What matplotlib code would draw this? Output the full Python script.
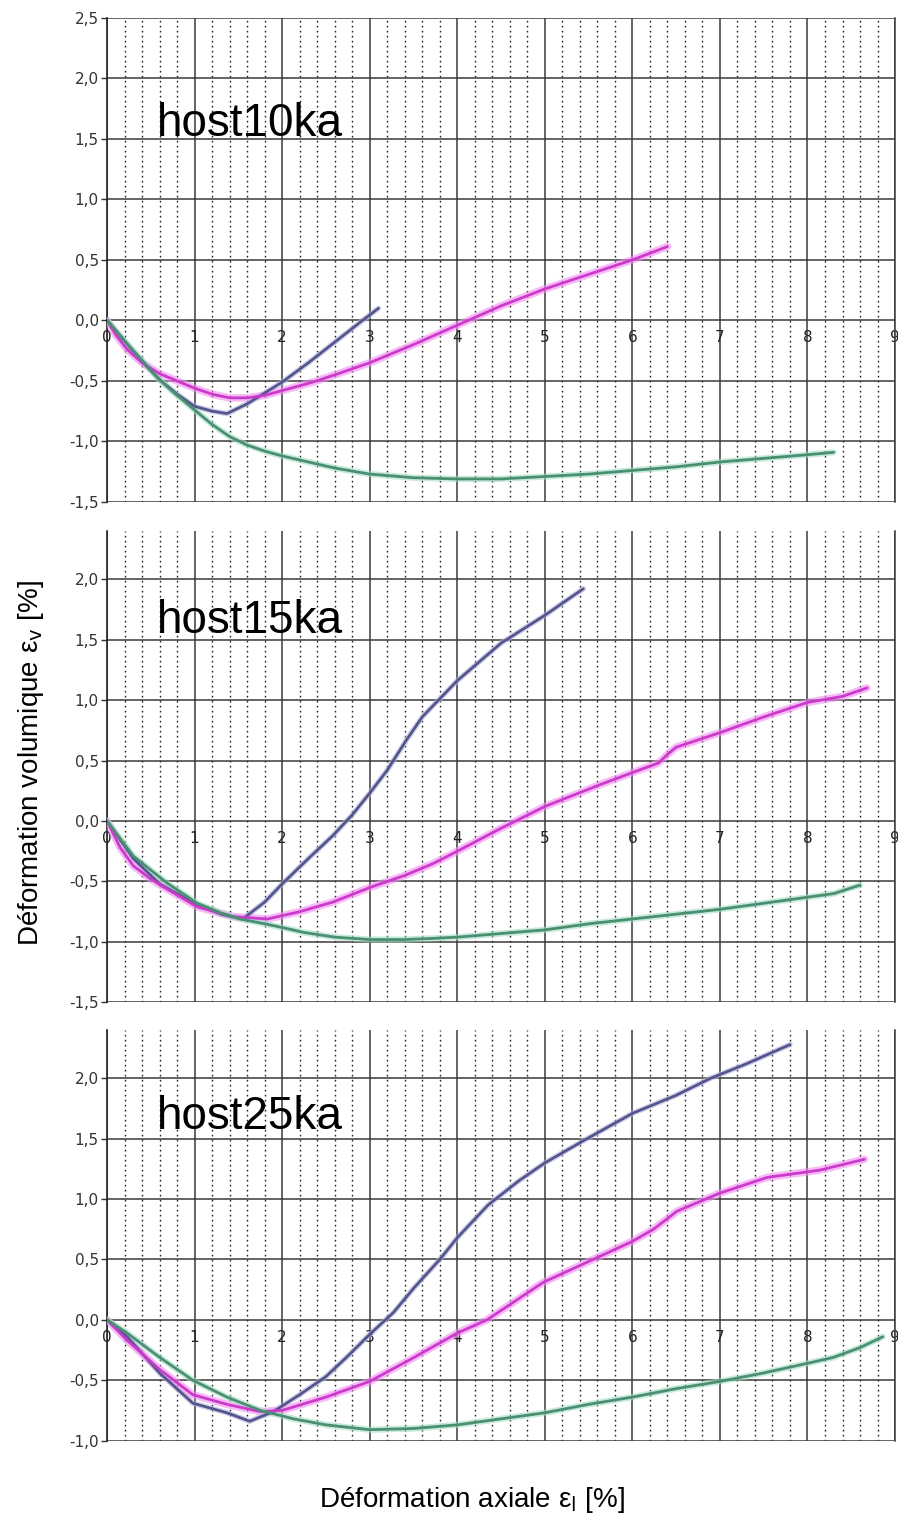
import numpy as np
import matplotlib
matplotlib.use("Agg")
import matplotlib.pyplot as plt
from matplotlib.ticker import MultipleLocator, FixedLocator, FixedFormatter

# ---- data ----
panel_names = ["host10ka", "host15ka", "host25ka"]

# host10ka
h10_bleu_x = [0, 0.2, 0.4, 0.6, 0.8, 1.0, 1.2, 1.37, 1.6, 1.8, 2.0, 2.3, 2.6, 2.9, 3.1]
h10_bleu_y = [0, -0.17, -0.34, -0.49, -0.61, -0.71, -0.75, -0.77, -0.69, -0.60, -0.51, -0.35, -0.18, -0.01, 0.10]
h10_rose_x = [0, 0.1, 0.23, 0.4, 0.6, 0.8, 1.0, 1.2, 1.4, 1.6, 1.8, 2.1, 2.35, 2.6, 3.0, 3.5, 4.0, 4.5,
              5.0, 5.5, 6.0, 6.4]
h10_rose_y = [0, -0.12, -0.24, -0.35, -0.44, -0.50, -0.56, -0.61, -0.64, -0.64, -0.62, -0.56, -0.51, -0.45,
              -0.35, -0.20, -0.04, 0.12, 0.26, 0.38, 0.50, 0.61]
h10_vert_x = [0, 0.2, 0.4, 0.6, 0.8, 1.0, 1.2, 1.4, 1.6, 1.8, 2.0, 2.3, 2.6, 3.0, 3.5, 4.0, 4.5,
              5.0, 5.5, 6.0, 6.5, 7.0, 7.5, 8.0, 8.3]
h10_vert_y = [0, -0.17, -0.33, -0.49, -0.62, -0.74, -0.86, -0.96, -1.03, -1.08, -1.12, -1.17, -1.22, -1.27,
              -1.30, -1.31, -1.31, -1.29, -1.27, -1.24, -1.21, -1.17, -1.14, -1.11, -1.09]

# host15ka
h15_bleu_x = [0, 0.3, 0.6, 1.0, 1.3, 1.55, 1.8, 2.0, 2.3, 2.58, 2.8, 3.0, 3.2, 3.42, 3.6, 4.0, 4.5, 5.0, 5.44]
h15_bleu_y = [0, -0.31, -0.52, -0.68, -0.77, -0.81, -0.67, -0.52, -0.31, -0.12, 0.05, 0.23, 0.42, 0.67,
              0.86, 1.16, 1.47, 1.70, 1.92]
h15_rose_x = [0, 0.15, 0.3, 0.5, 0.68, 1.03, 1.44, 1.83, 2.2, 2.58, 3.0, 3.4, 3.73, 4.0, 4.5, 5.0, 5.63,
              6.0, 6.3, 6.4, 6.5, 7.0, 7.5, 8.0, 8.4, 8.68]
h15_rose_y = [0, -0.22, -0.37, -0.48, -0.56, -0.71, -0.79, -0.81, -0.75, -0.67, -0.55, -0.45, -0.35, -0.25,
              -0.06, 0.12, 0.30, 0.40, 0.48, 0.55, 0.61, 0.73, 0.86, 0.98, 1.03, 1.10]
h15_vert_x = [0, 0.3, 0.68, 1.03, 1.3, 1.52, 1.8, 2.0, 2.24, 2.6, 3.0, 3.4, 3.73, 4.0, 4.5, 5.0, 5.5,
              6.0, 6.5, 7.0, 7.5, 8.0, 8.3, 8.6]
h15_vert_y = [0, -0.29, -0.51, -0.68, -0.76, -0.81, -0.85, -0.88, -0.92, -0.96, -0.98, -0.98, -0.97, -0.96,
              -0.93, -0.90, -0.85, -0.81, -0.77, -0.73, -0.68, -0.63, -0.60, -0.53]

# host25ka
h25_bleu_x = [0, 0.23, 0.6, 0.98, 1.37, 1.63, 1.9, 2.2, 2.5, 2.75, 3.0, 3.27, 3.5, 3.8, 4.0, 4.35, 4.7,
              5.0, 5.48, 6.0, 6.5, 6.89, 7.3, 7.8]
h25_bleu_y = [0, -0.14, -0.44, -0.69, -0.77, -0.84, -0.76, -0.62, -0.47, -0.30, -0.12, 0.06, 0.26, 0.50,
              0.68, 0.95, 1.15, 1.30, 1.50, 1.71, 1.86, 2.00, 2.12, 2.28]
h25_rose_x = [0, 0.23, 0.6, 0.98, 1.37, 1.75, 2.0, 2.5, 3.0, 3.46, 4.0, 4.34, 4.98, 5.55, 6.0, 6.24, 6.51,
              7.0, 7.54, 8.14, 8.65]
h25_rose_y = [0, -0.17, -0.41, -0.62, -0.70, -0.76, -0.75, -0.64, -0.51, -0.33, -0.11, 0.0, 0.31, 0.50,
              0.65, 0.75, 0.90, 1.05, 1.18, 1.24, 1.33]
h25_vert_x = [0, 0.23, 0.6, 0.98, 1.37, 1.75, 2.13, 2.5, 3.0, 3.5, 4.0, 4.5, 5.0, 5.5, 6.0, 6.5, 7.0,
              7.5, 8.0, 8.3, 8.6, 8.86]
h25_vert_y = [0, -0.11, -0.31, -0.50, -0.64, -0.75, -0.82, -0.87, -0.91, -0.90, -0.87, -0.82, -0.77, -0.70,
              -0.64, -0.57, -0.51, -0.44, -0.36, -0.31, -0.23, -0.14]

# axis ticks
x_ticks = [0, 1, 2, 3, 4, 5, 6, 7, 8, 9]
y_ticks_1 = [-1.5, -1.0, -0.5, 0.0, 0.5, 1.0, 1.5, 2.0, 2.5]
y_labels_1 = ["-1,5", "-1,0", "-0,5", "0,0", "0,5", "1,0", "1,5", "2,0", "2,5"]
y_ticks_2 = [-1.5, -1.0, -0.5, 0.0, 0.5, 1.0, 1.5, 2.0]
y_labels_2 = ["-1,5", "-1,0", "-0,5", "0,0", "0,5", "1,0", "1,5", "2,0"]
y_ticks_3 = [-1.0, -0.5, 0.0, 0.5, 1.0, 1.5, 2.0]
y_labels_3 = ["-1,0", "-0,5", "0,0", "0,5", "1,0", "1,5", "2,0"]

series = [
    [(h10_bleu_x, h10_bleu_y), (h10_rose_x, h10_rose_y), (h10_vert_x, h10_vert_y)],
    [(h15_bleu_x, h15_bleu_y), (h15_rose_x, h15_rose_y), (h15_vert_x, h15_vert_y)],
    [(h25_bleu_x, h25_bleu_y), (h25_rose_x, h25_rose_y), (h25_vert_x, h25_vert_y)],
]
y_limits = [(-1.5, 2.5), (-1.5, 2.4), (-1.0, 2.4)]
y_ticks = [(y_ticks_1, y_labels_1), (y_ticks_2, y_labels_2), (y_ticks_3, y_labels_3)]
name_y = [1.52, 1.55, 1.58]

# colours: blue-violet, magenta, green (with a pale halo like the jpeg)
line_colors = ["#55558e", "#cc3acc", "#4a8f72"]
halo_colors = ["#b4b4dc", "#f08ef0", "#a2dcc4"]
halo_widths = [4.0, 5.5, 4.5]

# axes boxes in figure fraction (left, bottom, width, height)
boxes = [
    (0.1192, 0.6713, 0.8775, 0.3170),
    (0.1192, 0.3435, 0.8775, 0.3090),
    (0.1192, 0.0566, 0.8775, 0.2688),
]

fig = plt.figure(figsize=(8.98, 15.27), dpi=100)

for i in range(3):
    ax = fig.add_axes(boxes[i])
    ax.set_xlim(0, 9)
    ax.set_ylim(*y_limits[i])

    # grid: solid majors, dotted 0.2 minors on x
    ax.xaxis.set_major_locator(FixedLocator(x_ticks))
    ax.xaxis.set_minor_locator(MultipleLocator(0.2))
    ax.yaxis.set_major_locator(FixedLocator(y_ticks[i][0]))
    ax.yaxis.set_major_formatter(FixedFormatter(y_ticks[i][1]))
    ax.grid(which="major", axis="both", color="#3a3a3a", linewidth=1.1, linestyle="-")
    ax.grid(which="minor", axis="x", color="#1e1e1e", linewidth=1.0, linestyle=(0, (1.2, 2.4)))
    ax.set_axisbelow(True)

    # x axis crosses at y=0, like in Excel
    ax.spines["bottom"].set_position(("data", 0))
    ax.spines["bottom"].set_color("none")
    ax.spines["top"].set_visible(False)
    ax.spines["right"].set_color("#3a3a3a")
    ax.spines["right"].set_linewidth(1.1)
    ax.spines["left"].set_color("#222222")
    ax.spines["left"].set_linewidth(1.2)

    ax.tick_params(axis="x", which="both", length=0, pad=7, labelsize=11, colors="#222222")
    ax.tick_params(axis="y", which="major", length=4, width=1, direction="out", pad=2,
                   labelsize=11, colors="#333333")
    ax.tick_params(axis="y", which="minor", length=0)
    ax.set_xticklabels([str(t) for t in x_ticks], fontfamily="DejaVu Sans")

    for k, (xs, ys) in enumerate(series[i]):
        ax.plot(xs, ys, color=halo_colors[k], linewidth=halo_widths[k], alpha=0.6,
                solid_capstyle="round", solid_joinstyle="round", zorder=3)
        ax.plot(xs, ys, color=line_colors[k], linewidth=2.0,
                solid_capstyle="round", solid_joinstyle="round", zorder=4)

    ax.text(0.57, name_y[i], panel_names[i], fontsize=33, family="Liberation Sans",
            ha="left", va="baseline", color="black", zorder=5)

fig.text(0.034, 0.50, "Déformation volumique ε$_{\\rm v}$ [%]", rotation=90,
         fontsize=20, family="Liberation Sans", ha="center", va="center")
fig.text(0.525, 0.018, "Déformation axiale ε$_{\\rm l}$ [%]",
         fontsize=20, family="Liberation Sans", ha="center", va="center")

fig.savefig("out.png", dpi=100, facecolor="white")
